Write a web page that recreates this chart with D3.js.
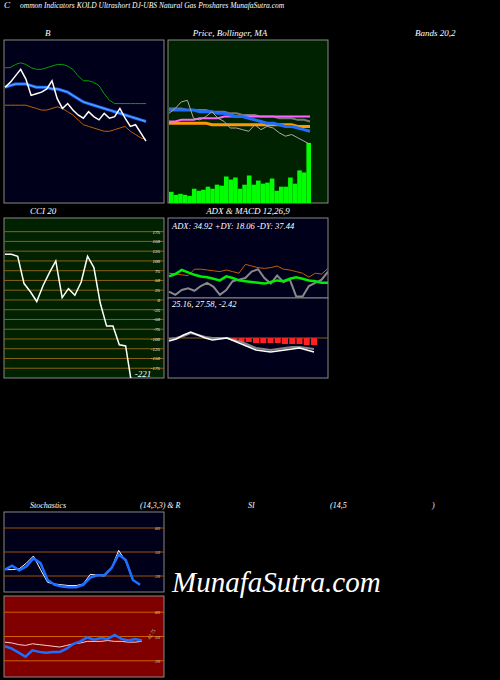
<!DOCTYPE html><html><head><meta charset="utf-8"><script src="https://cdn.jsdelivr.net/npm/d3@7"></script>
<style>body{margin:0;background:#000}text{font-family:"Liberation Serif",serif;font-style:italic}</style></head><body><svg id="c" width="500" height="680"></svg><script>
// ---- data ----
const bbPrice=[71,74,78,82,76,66,67,68,70,75,64,58,61,57,54,52,56,53,51,55,52,53,58,52,47,48,43,38];
const bbUpper=[83,83,85,86,85,83,82,82,83,84,85,85,84,82,78,75,75,74,72,67,63,61,61,61,61,61,61,61];
const bbMid=[71,72,73,73,73,72,71,71,71,70,70,69,68,66,64,62,61,60,59,58,57,56,55,54,53,52,51,50];
const bbLower=[60,60,60,60,60,59,58,57,57,58,59,58,56,54,51,48,47,46,45,44,44,45,46,47,44,42,40,39];
const pPrice=[55,58,62,63,52,51,53,56,52,50,46,46,45,44,48,45,47,46,43,41,42,40,38,36];
const pMA1=[57,57,57,57,57,56,56,56,55,55,54,53,53,52,51,50,49,49,48,47,47,46,45,44];
const pMA2=[58,58,58,57,57,57,57,56,56,56,55,55,54,54,54,53,53,53,52,52,52,51,51,50];
const pPink=[50,50,51,51,51,52,52,52,52,53,53,53,53,53,53,53,53,53,53,53,53,53,53,53];
const pOrange=[49,49,49,49,49,49,49,48,48,48,48,48,48,48,48,48,48,48,48,48,48,47,47,47];
const volume=[11,8,9,8,7,14,12,13,16,14,18,17,26,23,25,14,18,27,18,22,19,20,24,12,16,16,25,19,32,30,59];
const cci=[117,117,112,42,21,-4,37,70,100,6,29,12,46,112,83,-8,-67,-67,-115,-118,-221];
const cciTicks=[175,150,125,100,75,50,25,0,-25,-50,-75,-100,-125,-150,-175];
const adx=[8,4,10,12,9,15,19,14,4,10,21,23,25,33,36,25,18,28,20,23,2,2,15,19,23,33];
const pdi=[27,30,35,32,29,27,26,24,22,27,25,22,21,20,19,18,20,22,21,24,26,24,22,21,19,19];
const mdi=[31,30,29,28,36,36,35,34,33,35,33,31,42,40,38,37,38,40,36,35,33,31,26,31,30,37];
const macd=[-3,-1,3,6,3,0,-2,-1,0,-3,-6,-9,-12,-13,-14,-13,-12,-11,-10,-12,-14];
const signal=[-1,0,2,5,3,1,0,0,0,-2,-4,-7,-10,-11,-12,-11,-10,-9,-9,-10,-11];
const hist=[0,0,0,0,0,0,0,0,0,-3,-4,-4,-5,-5,-5,-5,-6,-6,-6,-7,-7];
const stochK=[28,33,27,32,42,36,15,9,7,6,6,9,18,21,21,30,47,40,15,9];
const stochD=[28,28,29,36,45,28,12,10,9,8,8,10,22,21,20,30,52,38,15,9];
const rsi=[38,35,30,25,33,31,30,31,31,35,41,44,49,46,48,47,52,47,45,47,45];
const rsiSig=[43,42,40,39,41,40,39,38,37,39,41,42,44,44,44,45,44,44,43,43,44];
const oscTicks=[80,50,20];
// ---- drawing ----
const svg=d3.select("#c");
function txt(x,y,s,sz,anchor){svg.append("text").attr("x",x).attr("y",y).attr("fill","#fff").attr("font-size",sz||9).attr("text-anchor",anchor||"start").text(s);}
txt(4,8,"C");txt(20,8,"ommon  Indicators KOLD Ultrashort DJ-UBS Natural Gas Proshares MunafaSutra.com",7.5);
txt(45,36,"B");txt(230,36,"Price,  Bollinger,  MA",9,"middle");txt(415,36,"Bands 20,2");
txt(30,214,"CCI 20");txt(248,214,"ADX  & MACD 12,26,9",9,"middle");
txt(30,508,"Stochastics",8);txt(140,508,"(14,3,3) & R",8);txt(248,508,"SI",8);txt(330,508,"(14,5",8);txt(432,508,")",8);
function panel(x0,y0,w,h,bg,dom,n,pad){
  const g=svg.append("g");
  g.append("rect").attr("x",x0).attr("y",y0).attr("width",w).attr("height",h).attr("fill",bg).attr("stroke","#888");
  const cp="cp"+x0+"_"+y0;g.append("clipPath").attr("id",cp).append("rect").attr("x",x0).attr("y",y0).attr("width",w).attr("height",h);
  const inner=g.append("g").attr("clip-path","url(#"+cp+")");
  const x=d3.scaleLinear().domain([0,n-1]).range([x0+1,x0+w-(pad||0)]);
  const y=d3.scaleLinear().domain(dom).range([y0+h,y0]);
  return {g:inner,x,y,outer:g};
}
function line(p,data,col,wd,xs){p.g.append("path").datum(data).attr("fill","none").attr("stroke",col).attr("stroke-width",wd)
  .attr("d",d3.line().x((d,i)=>(xs||p.x)(i)).y(d=>p.y(d)));}
// B panel
let p=panel(4,40,160,163,"#00001a",[0,100],bbPrice.length,18);
line(p,bbUpper,"#00a000",1);line(p,bbLower,"#c06000",1);line(p,bbMid,"#1e6fff",3);line(p,bbMid,"#66aaff",1);line(p,bbPrice,"#fff",1.5);
// Price panel
p=panel(168,40,160,163,"#002200",[0,100],pPrice.length,18);
const xv=d3.scaleBand().domain(d3.range(volume.length)).range([169,311]).padding(0);
const yv=d3.scaleLinear().domain([0,160]).range([203,40]);
p.g.selectAll("rect.v").data(volume).join("rect").attr("x",(d,i)=>xv(i)).attr("width",xv.bandwidth()).attr("y",d=>yv(d)).attr("height",d=>203-yv(d)).attr("fill","#00ff00");
line(p,pMA2,"#777",2);line(p,pOrange,"#ff9900",3);line(p,pPink,"#ff66ff",2);line(p,pMA1,"#1e6fff",3);line(p,pPrice,"#aaa",1);
// CCI
p=panel(4,218,160,160,"#002200",[-200,210],cci.length,32);
cciTicks.forEach(t=>{p.g.append("line").attr("x1",4).attr("x2",164).attr("y1",p.y(t)).attr("y2",p.y(t)).attr("stroke","#8a6010");
 p.outer.append("text").attr("x",160).attr("y",p.y(t)+2).attr("fill","#fff").attr("font-size",5).attr("text-anchor","end").text(t);});
line(p,cci,"#fff",1.5);
p.outer.append("text").attr("x",143).attr("y",377).attr("fill","#fff").attr("font-size",9).attr("text-anchor","middle").text("-221");
// ADX
p=panel(168,218,160,80,"#00001a",[0,100],adx.length,0);
line(p,mdi,"#c06000",1);line(p,adx,"#888",2);line(p,pdi,"#00ee00",2.5);
p.outer.append("text").attr("x",172).attr("y",229).attr("fill","#fff").attr("font-size",8.5).text("ADX: 34.92  +DY: 18.06  -DY: 37.44");
// MACD
p=panel(168,298,160,80,"#00001a",[-40,40],macd.length,14);
p.g.append("line").attr("x1",168).attr("x2",328).attr("y1",p.y(0)).attr("y2",p.y(0)).attr("stroke","#8a6010");
const xb=p.x;p.g.selectAll("rect.h").data(hist).join("rect").attr("x",(d,i)=>xb(i)-3).attr("width",6).attr("y",p.y(0)).attr("height",d=>p.y(d)-p.y(0)).attr("fill","#ff2020");
line(p,signal,"#888",2);line(p,macd,"#fff",1.5);
p.outer.append("text").attr("x",172).attr("y",307).attr("fill","#fff").attr("font-size",8.5).text("25.16,  27.58,  -2.42");
// Stoch
p=panel(4,512,160,80,"#00001a",[0,100],stochK.length,24);
oscTicks.forEach(t=>{p.g.append("line").attr("x1",4).attr("x2",164).attr("y1",p.y(t)).attr("y2",p.y(t)).attr("stroke","#a05000");
 p.outer.append("text").attr("x",160).attr("y",p.y(t)+2).attr("fill","#ccc").attr("font-size",5).attr("text-anchor","end").text(t);});
line(p,stochD,"#fff",1);line(p,stochK,"#1e6fff",2.5);
// RSI
p=panel(4,596,160,81,"#800000",[0,100],rsi.length,22);
oscTicks.forEach(t=>{p.g.append("line").attr("x1",4).attr("x2",164).attr("y1",p.y(t)).attr("y2",p.y(t)).attr("stroke","#d06000");
 p.outer.append("text").attr("x",160).attr("y",p.y(t)+2).attr("fill","#ccc").attr("font-size",5).attr("text-anchor","end").text(t);});
line(p,rsiSig,"#ffcccc",1);line(p,rsi,"#1e6fff",2.5);
p.outer.append("text").attr("transform","translate(150,640) rotate(-60)").attr("fill","#ccc").attr("font-size",5).text("42.75");
txt(172,592,"MunafaSutra.com",29);
</script></body></html>
